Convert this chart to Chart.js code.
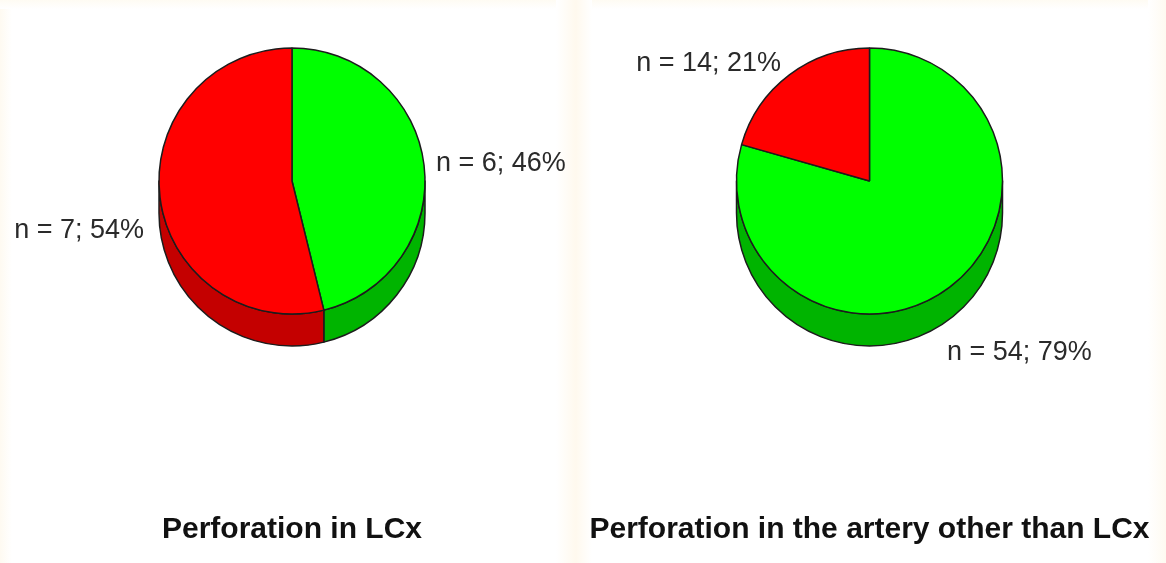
<!DOCTYPE html>
<html>
<head>
<meta charset="utf-8">
<script src="https://cdn.jsdelivr.net/npm/chart.js@4/dist/chart.umd.min.js"></script>
<style>
  html, body { margin: 0; padding: 0; background: #ffffff; }
  #stage { position: relative; width: 1166px; height: 563px; overflow: hidden; background: #ffffff; }
  .band { position: absolute; pointer-events: none; }
  .panel { position: absolute; top: 0; width: 583px; height: 563px; }
  canvas { display: block; }
</style>
</head>
<body>
<div id="stage">
  <div class="band" style="left:0;top:0;width:12px;height:563px;background:linear-gradient(to right,#fefaf1,#ffffff);"></div>
  <div class="band" style="left:0;top:0;width:1166px;height:9px;background:linear-gradient(to bottom,#fefbf3,#ffffff);"></div>
  <div class="band" style="left:556px;top:0;width:36px;height:563px;background:linear-gradient(to right,#ffffff,#fff9ee 55%,#ffffff);"></div>
  <div class="band" style="left:1148px;top:0;width:18px;height:563px;background:linear-gradient(to right,#ffffff,#fefaf1);"></div>
  <div class="panel" style="left:0;"><canvas id="c1" width="583" height="563"></canvas></div>
  <div class="panel" style="left:583px;"><canvas id="c2" width="583" height="563"></canvas></div>
</div>
<script>
// ---- data ----
const leftTitle = 'Perforation in LCx';
const rightTitle = 'Perforation in the artery other than LCx';
const leftCategories = ['Group A', 'Group B'];
const leftCounts = [6, 7];
const leftPercents = [46, 54];
const rightCategories = ['Group A', 'Group B'];
const rightCounts = [54, 14];
const rightPercents = [79, 21];

// ---- style ----
const topColors = ['#00ff00', '#ff0000'];
const sideColors = ['#00b400', '#c40000'];
const outline = '#1c1c1c';
const FONT = '"Liberation Sans", Arial, Helvetica, sans-serif';

// 3D side band drawn from the library's arc elements
const pie3d = {
  id: 'pie3d',
  beforeDatasetsDraw(chart, args, opts) {
    const ctx = chart.ctx;
    const meta = chart.getDatasetMeta(0);
    const depth = opts.depth;
    meta.data.forEach((arc, i) => {
      const p = arc.getProps(['x', 'y', 'startAngle', 'endAngle', 'outerRadius'], true);
      const a0 = Math.max(p.startAngle, 0);
      const a1 = Math.min(p.endAngle, Math.PI);
      if (a1 <= a0) return;
      ctx.save();
      ctx.beginPath();
      ctx.arc(p.x, p.y, p.outerRadius, a0, a1);
      ctx.arc(p.x, p.y + depth, p.outerRadius, a1, a0, true);
      ctx.closePath();
      ctx.fillStyle = sideColors[i];
      ctx.fill();
      ctx.lineWidth = 1.5;
      ctx.strokeStyle = outline;
      ctx.lineJoin = 'round';
      ctx.stroke();
      ctx.restore();
    });
  },
  afterDatasetsDraw(chart, args, opts) {
    const ctx = chart.ctx;
    const meta = chart.getDatasetMeta(0);
    const depth = opts.depth;
    meta.data.forEach((arc, i) => {
      const p = arc.getProps(['x', 'y', 'startAngle', 'endAngle', 'outerRadius'], true);
      const mid = (p.startAngle + p.endAngle) / 2;
      const c = Math.cos(mid), s = Math.sin(mid);
      const rr = p.outerRadius + 12;
      const nudge = opts.nudges[i] || [0, 0];
      let x = p.x + rr * c + nudge[0];
      let y = p.y + rr * s + (s > 0 ? depth : 0) + nudge[1];
      ctx.save();
      ctx.font = '27px ' + FONT;
      ctx.fillStyle = '#2a2a2a';
      ctx.textAlign = c >= 0 ? 'left' : 'right';
      ctx.textBaseline = 'middle';
      ctx.fillText(opts.labels[i], x, y);
      ctx.restore();
    });
  }
};

function makePie(id, cats, counts, pcts, title, padL, padR, nudges) {
  const labels = counts.map((n, i) => 'n = ' + n + '; ' + pcts[i] + '%');
  return new Chart(document.getElementById(id), {
    type: 'pie',
    data: {
      labels: cats,
      datasets: [{
        data: counts,
        backgroundColor: topColors,
        borderColor: outline,
        borderWidth: 1.5
      }]
    },
    options: {
      responsive: false,
      animation: false,
      radius: 133,
      layout: { padding: { top: 0, bottom: 0, left: padL, right: padR } },
      plugins: {
        legend: { display: false },
        tooltip: { enabled: false },
        title: {
          display: true,
          position: 'bottom',
          text: title,
          color: '#111111',
          font: { family: FONT, size: 30, weight: 'bold', lineHeight: 1.2 },
          padding: { top: 150, bottom: 15 }
        },
        pie3d: { depth: 32, labels: labels, nudges: nudges }
      }
    },
    plugins: [pie3d]
  });
}

makePie('c1', leftCategories, leftCounts, leftPercents, leftTitle, 1, 0, [[0, 0], [-4, 0]]);
makePie('c2', rightCategories, rightCounts, rightPercents, rightTitle, 0, 10, [[-10, 24], [-1, -2]]);
</script>
</body>
</html>
